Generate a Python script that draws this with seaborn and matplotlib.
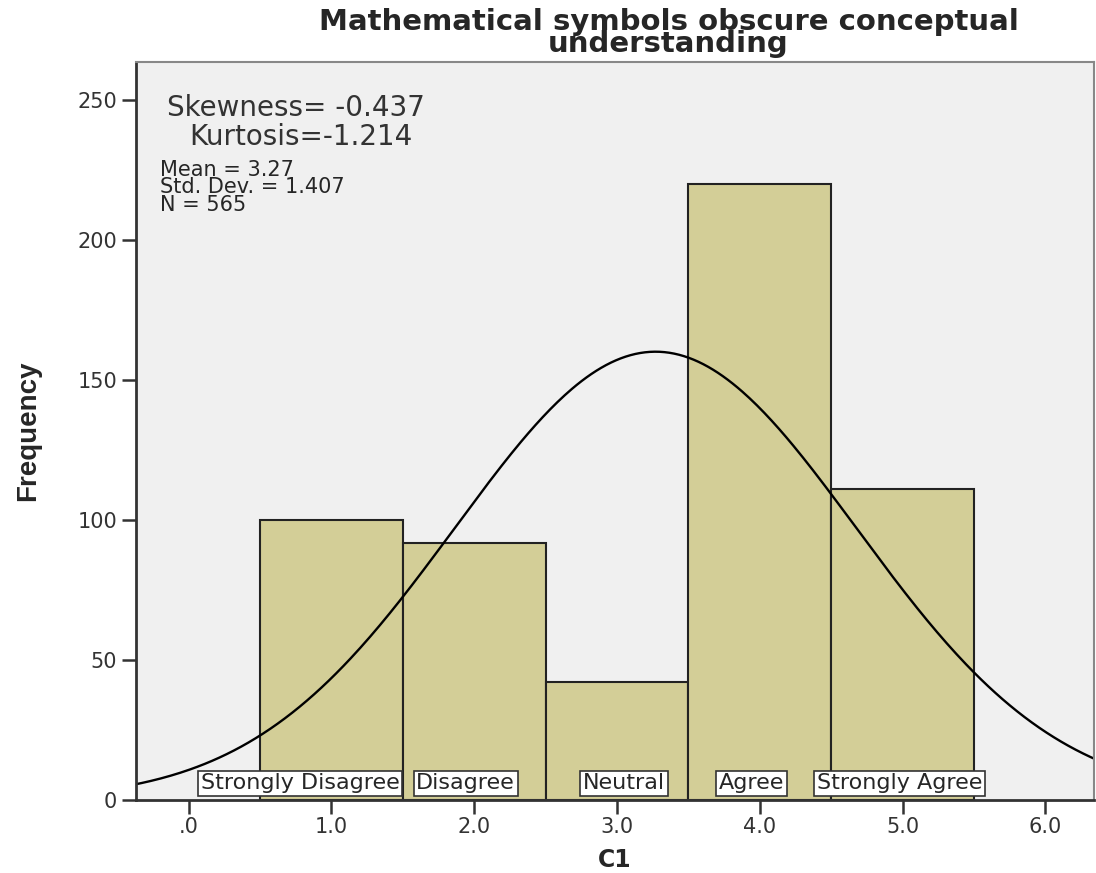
import numpy as np
import pandas as pd
import matplotlib
matplotlib.use("Agg")
import matplotlib.pyplot as plt
import seaborn as sns

# histogram data
values = [1, 2, 3, 4, 5]
counts = [100, 92, 42, 220, 111]
labels = ["Strongly Disagree", "Disagree", "Neutral", "Agree", "Strongly Agree"]
label_x = [0.78, 1.94, 3.05, 3.94, 4.98]
xticks = [0, 1, 2, 3, 4, 5, 6]
xticklabels = [".0", "1.0", "2.0", "3.0", "4.0", "5.0", "6.0"]
yticks = [0, 50, 100, 150, 200, 250]

mean, sd, n = 3.27, 1.407, 565
skew, kurt = -0.437, -1.214

sns.set_style("white")
plt.rcParams["font.family"] = ["DejaVu Sans"]

df = pd.DataFrame({"C1": values, "count": counts})

fig = plt.figure(figsize=(10.96, 8.73), dpi=100)
ax = fig.add_axes([0.124, 0.0836, 0.874, 0.845])
ax.set_facecolor("#F0F0F0")

sns.histplot(data=df, x="C1", weights="count", binwidth=1, binrange=(0.5, 5.5),
             color="#D3CE97", alpha=1, edgecolor="#222222", linewidth=1.5, ax=ax)

# normal curve from mean / sd
xs = np.linspace(-0.4, 6.4, 400)
ys = n * np.exp(-0.5 * ((xs - mean) / sd) ** 2) / (sd * np.sqrt(2 * np.pi))
ax.plot(xs, ys, color="black", lw=1.7)

for i, (lx, lab) in enumerate(zip(label_x, labels)):
    ax.text(lx, 6, lab, ha="center", va="center", fontsize=16, zorder=10 + i,
            bbox=dict(facecolor="white", edgecolor="#333333", boxstyle="square,pad=0.12", lw=1.2))

ax.set_xlim(-0.37, 6.34)
ax.set_ylim(0, 263.6)
ax.set_xticks(xticks)
ax.set_xticklabels(xticklabels)
ax.set_yticks(yticks)
ax.tick_params(axis="both", direction="out", length=10, width=1.8, color="#333333",
               labelsize=15, labelcolor="#333333", bottom=True, left=True)
ax.tick_params(axis="x", pad=2)

for side in ["left", "bottom"]:
    ax.spines[side].set_color("#333333")
    ax.spines[side].set_linewidth(2)
for side in ["top", "right"]:
    ax.spines[side].set_color("#888888")
    ax.spines[side].set_linewidth(1.5)

ax.set_xlabel("C1", fontsize=17, fontweight="bold", labelpad=8)
ax.set_ylabel("Frequency", fontsize=20, fontweight="bold", labelpad=26,
              family=["Liberation Sans Narrow", "Liberation Sans"])

ax.text(0.032, 0.927, f"Skewness= {skew}", transform=ax.transAxes, fontsize=20,
        color="#333333", va="baseline")
ax.text(0.056, 0.888, f"Kurtosis={kurt}", transform=ax.transAxes, fontsize=20,
        color="#333333", va="baseline")
ax.text(0.025, 0.868, f"Mean = {mean}\nStd. Dev. = {sd}\nN = {n}",
        transform=ax.transAxes, fontsize=15, va="top", linespacing=0.85)

fig.text(0.61, 0.962, "Mathematical symbols obscure conceptual\nunderstanding",
         ha="center", va="center", fontsize=21, fontweight="bold", linespacing=0.72)

fig.savefig("out.png", dpi=100)
